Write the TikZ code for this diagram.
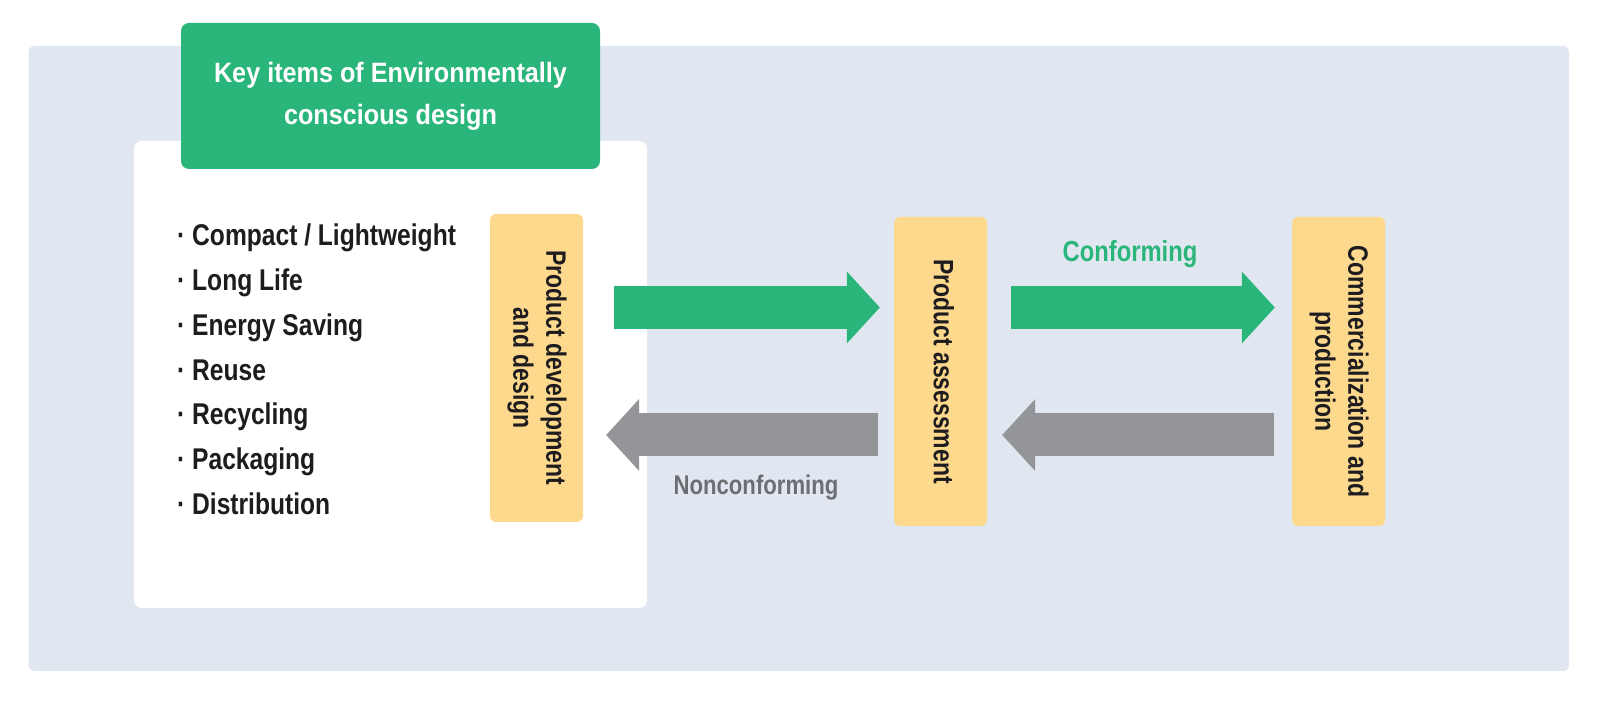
\documentclass[tikz,border=0pt]{standalone}
\usepackage{fontspec}
\setmainfont{Liberation Sans}[FakeStretch=0.82]
\newfontfamily\titlefont{Liberation Sans}[FakeStretch=0.9]
\usetikzlibrary{arrows.meta}

\definecolor{bgpanel}{RGB}{225,231,240}
\definecolor{flowgreen}{RGB}{42,182,123}
\definecolor{flowgrey}{RGB}{147,149,152}
\definecolor{stageyellow}{RGB}{253,217,141}
\definecolor{inkdark}{RGB}{30,28,30}
\definecolor{inkgrey}{RGB}{109,110,113}

\newcommand{\vtext}[1]{\rotatebox{-90}{\begin{tabular}{@{}c@{}}#1\end{tabular}}}

\begin{document}
\begin{tikzpicture}[x=1pt, y=1pt,
  stagebox/.style={fill=stageyellow, rounded corners=6pt, minimum width=93pt,
    minimum height=308pt, inner sep=0pt, text=inkdark,
    font=\fontsize{28}{33}\selectfont\bfseries},
  goarrow/.style={draw=flowgreen, line width=43pt,
    -{Triangle[length=33pt, width=72pt, line width=0pt]}},
  backarrow/.style={draw=flowgrey, line width=43pt,
    -{Triangle[length=33pt, width=72pt, line width=0pt]}}]
  \useasboundingbox (0,0) rectangle (1600,701);
  % panels
  \fill[bgpanel, rounded corners=6pt] (28.6,30) rectangle (1569,655);
  \fill[white, rounded corners=8pt] (134,93) rectangle (647,560);
  \node[fill=flowgreen, rounded corners=8pt, minimum width=419pt,
    minimum height=146pt, text=white, align=center,
    font=\titlefont\bfseries\fontsize{28}{42}\selectfont]
    (title) at (390.5,605) {Key items of Environmentally\\conscious design};
  % key items
  \foreach \txt [count=\k] in {Compact / Lightweight, Long Life, Energy Saving,
      Reuse, Recycling, Packaging, Distribution} {
    \node[anchor=base west, inner sep=0pt, text=inkdark,
      font=\fontsize{30}{36}\selectfont\bfseries]
      (item\k) at (177,{455-44.67*(\k-1)}) {\textperiodcentered\ \txt};
  }
  % stages
  \node[stagebox] (dev) at (536.5,333) {\vtext{Product development\\and design}};
  \node[stagebox, minimum height=309pt] (assess) at (940.5,329.5)
    {\vtext{Product assessment}};
  \node[stagebox, minimum height=309pt] (comm) at (1338.5,329.5)
    {\vtext{Commercialization and\\production}};
  % flow
  \draw[goarrow] ([xshift=31pt,yshift=60.5pt]dev.east)
    -- ([xshift=-14pt,yshift=64pt]assess.west);
  \draw[goarrow] ([xshift=24pt,yshift=64pt]assess.east)
    -- ([xshift=-17pt,yshift=64pt]comm.west);
  \draw[backarrow] ([xshift=-16pt,yshift=-63.5pt]assess.west)
    -- ([xshift=23pt,yshift=-67pt]dev.east);
  \draw[backarrow] ([xshift=-18pt,yshift=-63.5pt]comm.west)
    -- ([xshift=15pt,yshift=-63.5pt]assess.east);
  \node[anchor=base, text=flowgreen, font=\fontsize{29}{34}\selectfont\bfseries]
    (conf) at (1130,439) {Conforming};
  \node[anchor=base, text=inkgrey, font=\fontsize{27}{32}\selectfont\bfseries]
    (nonconf) at (756,206) {Nonconforming};
\end{tikzpicture}
\end{document}
